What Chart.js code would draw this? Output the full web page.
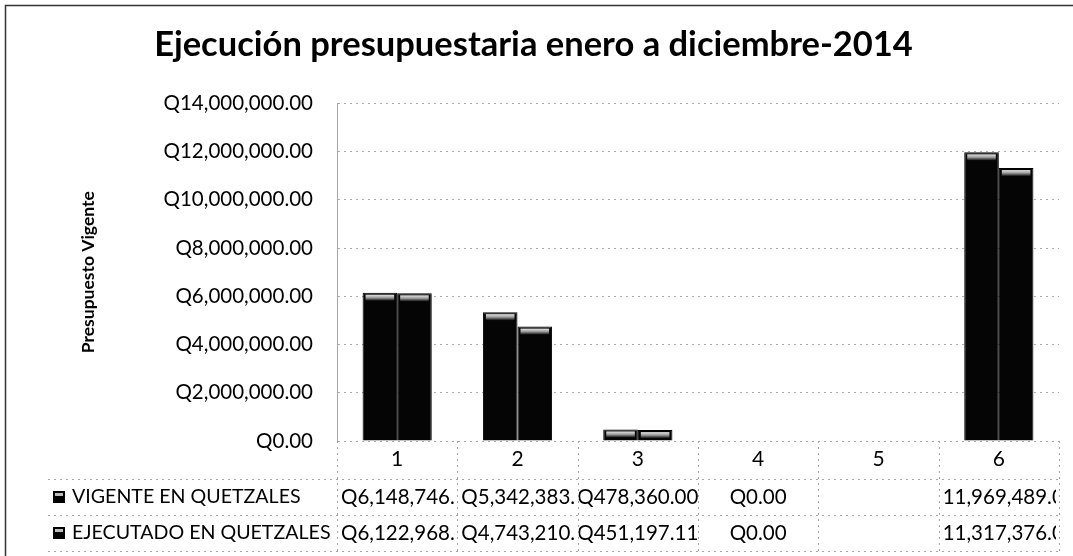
<!DOCTYPE html>
<html>
<head>
<meta charset="utf-8">
<script src="https://cdn.jsdelivr.net/npm/chart.js@4.4.1/dist/chart.umd.min.js"></script>
<style>
  html, body { margin: 0; padding: 0; background: #fff; }
  #wrap { width: 1073px; height: 556px; }
</style>
</head>
<body>
<div id="wrap"><canvas id="c" width="1073" height="556"></canvas></div>
<script>
// Budget execution, January to December 2014
const categories = ['1', '2', '3', '4', '5', '6'];
const vigente    = [6148746, 5342383, 478360.00, 0, null, 11969489];
const ejecutado  = [6122968, 4743210, 451197.11, 0, null, 11317376];
const seriesNames = ['VIGENTE EN QUETZALES', 'EJECUTADO EN QUETZALES'];
// currency sign shown in each data-table column
const tablePrefix = ['Q', 'Q', 'Q', 'Q', 'Q', ''];
const yMin = 0, yMax = 14000000, yStep = 2000000;

const FONT = 'Lato, "Open Sans", sans-serif';

function money(v, prefix) {
  if (v === null || v === undefined) return '';
  return prefix + v.toLocaleString('en-US', { minimumFractionDigits: 2, maximumFractionDigits: 2 });
}

// Light band on the top face of each bar
const barTops = {
  id: 'barTops',
  afterDatasetsDraw(chart) {
    const ctx = chart.ctx;
    chart.data.datasets.forEach((ds, di) => {
      chart.getDatasetMeta(di).data.forEach((bar, i) => {
        const v = ds.data[i];
        if (!v) return;
        const { x, y, base, width } = bar.getProps(['x', 'y', 'base', 'width'], true);
        const h = base - y;
        if (h < 4) return;
        const bh = Math.min(6, h - 3);
        const g = ctx.createLinearGradient(0, y + 2, 0, y + 2 + bh);
        g.addColorStop(0, '#e6e6e6');
        g.addColorStop(0.5, '#9a9a9a');
        g.addColorStop(1, '#111');
        ctx.save();
        ctx.fillStyle = g;
        ctx.fillRect(x - width / 2 + 3, y + 2, width - 6, bh);
        ctx.restore();
      });
    });
  }
};

// Frame and data table below the category axis
const dataTable = {
  id: 'dataTable',
  beforeDraw(chart) {
    const ctx = chart.ctx;
    ctx.save();
    ctx.fillStyle = '#fff';
    ctx.fillRect(0, 0, chart.width, chart.height);
    ctx.strokeStyle = '#333';
    ctx.lineWidth = 1.5;
    ctx.beginPath();
    ctx.moveTo(5.5, chart.height);
    ctx.lineTo(5.5, 5.5);
    ctx.lineTo(chart.width, 5.5);
    ctx.stroke();
    ctx.restore();
  },
  afterDraw(chart) {
    const { ctx, chartArea } = chart;
    const left = chartArea.left, right = chartArea.right, bottom = chartArea.bottom;
    const n = categories.length;
    const colW = (right - left) / n;
    const rowLines = [bottom + 38, bottom + 74, bottom + 110];
    const rowH = 36;

    ctx.save();
    ctx.strokeStyle = '#a5a5a5';
    ctx.lineWidth = 1;
    ctx.setLineDash([2, 4]);
    rowLines.forEach(yy => {
      ctx.beginPath();
      ctx.moveTo(48, Math.round(yy) + 0.5);
      ctx.lineTo(right, Math.round(yy) + 0.5);
      ctx.stroke();
    });
    for (let i = 0; i <= n; i++) {
      const xx = Math.round(left + i * colW) + 0.5;
      ctx.beginPath();
      ctx.moveTo(xx, bottom);
      ctx.lineTo(xx, rowLines[2]);
      ctx.stroke();
    }
    ctx.setLineDash([]);

    const rows = [vigente, ejecutado];
    ctx.textBaseline = 'middle';
    rows.forEach((vals, r) => {
      const cy = rowLines[r] + rowH / 2;
      // legend key
      ctx.fillStyle = '#000';
      ctx.fillRect(53, cy - 6, 12, 12);
      ctx.fillStyle = '#bdbdbd';
      ctx.fillRect(55, cy - 4, 8, 3);
      // series name
      ctx.fillStyle = '#000';
      ctx.textAlign = 'left';
      ctx.font = '19.6px ' + FONT;
      ctx.fillText(seriesNames[r], 72, cy);
      // values, clipped to their cells
      ctx.font = '20.5px ' + FONT;
      vals.forEach((v, i) => {
        const txt = money(v, tablePrefix[i]);
        if (!txt) return;
        const cl = left + i * colW;
        const w = ctx.measureText(txt).width;
        const fits = w <= colW + 4;
        ctx.save();
        ctx.beginPath();
        ctx.rect(cl + 1, rowLines[r], fits ? colW - 1 : colW - 4, rowH);
        ctx.clip();
        if (fits) {
          ctx.textAlign = 'center';
          ctx.fillText(txt, cl + colW / 2, cy);
        } else {
          ctx.textAlign = 'left';
          ctx.fillText(txt, cl + 4, cy);
        }
        ctx.restore();
      });
    });
    ctx.restore();
  }
};

new Chart(document.getElementById('c'), {
  type: 'bar',
  data: {
    labels: categories,
    datasets: [
      { label: seriesNames[0], data: vigente, backgroundColor: '#050505', borderColor: '#000', borderWidth: 1 },
      { label: seriesNames[1], data: ejecutado, backgroundColor: '#050505', borderColor: '#000', borderWidth: 1 }
    ]
  },
  options: {
    responsive: false,
    animation: false,
    layout: { padding: { left: 8, right: 14, top: 0, bottom: 0 } },
    categoryPercentage: 0.575,
    barPercentage: 1.0,
    plugins: {
      legend: { display: false },
      tooltip: { enabled: false },
      title: {
        display: true,
        text: 'Ejecución presupuestaria enero a diciembre-2014',
        color: '#000',
        font: { family: FONT, size: 34.5, weight: 'bold' },
        padding: { top: 24, bottom: 38 }
      }
    },
    scales: {
      x: {
        grid: { display: false, drawTicks: false },
        border: { display: false },
        ticks: { color: '#000', font: { family: FONT, size: 21 }, padding: 6 },
        afterFit(s) { s.height = 115; }
      },
      y: {
        min: yMin, max: yMax,
        ticks: {
          stepSize: yStep, color: '#000', padding: 24,
          font: { family: FONT, size: 20.5 },
          callback: v => money(v, 'Q')
        },
        grid: { color: '#a8a8a8', drawTicks: false, lineWidth: 1 },
        border: { display: true, dash: [2, 4], color: '#a8a8a8' },
        title: {
          display: true,
          text: 'Presupuesto Vigente',
          color: '#000',
          font: { family: FONT, size: 17.5, weight: 'bold' },
          padding: { top: 70, bottom: 0 }
        },
        afterFit(s) { s.width = 329; }
      }
    }
  },
  plugins: [barTops, dataTable]
});
</script>
</body>
</html>
